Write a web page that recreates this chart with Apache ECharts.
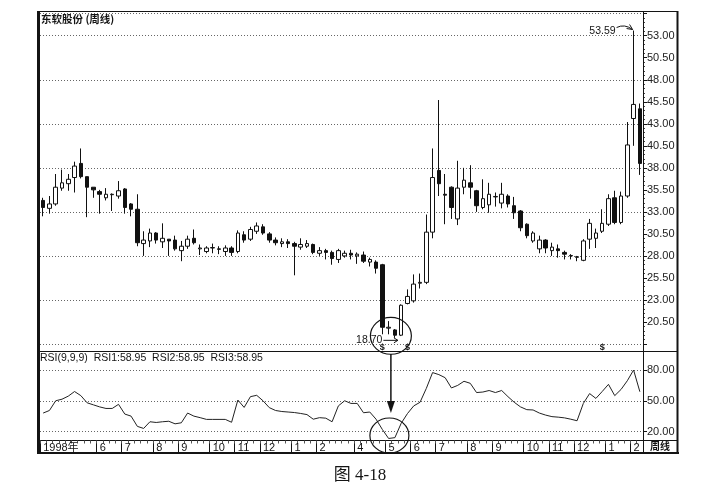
<!DOCTYPE html>
<html><head><meta charset="utf-8">
<script src="https://cdn.jsdelivr.net/npm/echarts@6/dist/echarts.min.js"></script>
<style>html,body{margin:0;padding:0;background:#fff}#c{width:704px;height:486px}</style>
</head><body><div id="c"></div>
<script>
// ---- data (weekly candles, 东软股份) ----
const opens = [34.3,33.4,33.9,35.7,36.2,36.9,38.5,37.0,35.8,35.3,
 34.6,34.95,34.8,35.6,33.9,33.3,29.4,29.7,30.6,29.6,
 29.9,29.8,28.6,29.1,30.0,28.8,28.5,28.9,28.8,28.5,
 28.9,28.5,30.4,29.9,30.8,31.3,30.5,29.8,29.4,29.6,
 29.4,29.0,29.1,29.3,28.3,28.6,28.4,27.6,28.0,28.3,
 28.0,28.1,27.3,27.3,27.0,19.8,19.6,19.0,22.6,22.9,
 24.9,25.0,30.7,37.7,35.0,35.8,32.2,35.8,36.3,35.4,
 33.5,33.8,34.7,34.0,34.8,33.7,33.1,31.6,29.7,28.8,
 29.8,28.6,28.8,28.4,28.0,27.9,27.5,29.9,30.0,30.8,
 31.6,34.6,31.8,34.8,43.6,44.7];
const closes = [33.5,33.9,35.8,36.3,36.7,38.2,37.0,35.8,35.5,35.0,
 35.0,35.0,35.4,33.5,33.3,29.5,29.8,30.6,29.8,30.0,
 29.7,28.8,29.1,29.9,29.5,28.9,28.9,28.95,28.75,28.9,
 28.4,30.6,29.8,31.0,31.4,30.6,29.8,29.5,29.6,29.4,
 29.1,29.3,29.4,28.4,28.6,28.4,27.7,28.6,28.3,28.1,
 28.2,27.4,27.6,26.6,19.9,19.9,19.0,22.4,23.4,24.8,
 25.0,30.7,36.9,36.2,34.9,33.5,35.7,36.6,35.8,33.7,
 34.5,35.0,34.75,35.0,33.9,32.9,31.2,30.3,30.6,29.8,
 28.9,29.0,28.6,28.2,28.05,27.85,29.7,31.7,30.6,31.7,
 34.5,31.8,34.8,40.6,45.2,38.5];
const lows = [32.5,32.8,33.7,35.4,35.4,35.2,36.8,32.4,34.6,32.8,
 34.3,33.1,34.5,32.8,32.5,29.1,28.0,29.0,29.4,28.9,
 28.0,28.6,27.4,28.8,29.3,28.1,28.3,28.3,28.2,28.0,
 28.0,28.3,29.5,29.7,30.5,30.4,29.5,29.2,29.0,28.9,
 25.8,28.7,28.9,28.2,28.0,27.6,27.0,27.2,27.8,27.6,
 27.1,27.2,26.8,26.0,19.1,19.1,18.7,18.9,22.5,22.7,
 24.3,24.8,30.0,34.8,31.6,32.2,31.5,35.0,34.5,33.0,
 33.3,32.9,33.6,33.4,33.5,32.2,30.8,30.0,29.5,28.3,
 28.3,28.0,27.8,27.6,27.6,27.4,27.4,28.8,28.9,30.6,
 31.4,31.6,31.6,34.6,40.5,37.2];
const highs = [34.6,34.8,37.3,37.8,37.3,38.7,40.2,37.0,35.8,35.5,
 35.7,35.1,36.5,35.7,34.0,35.0,30.8,31.1,30.7,31.7,
 29.9,30.3,29.7,30.3,31.0,29.3,29.1,29.4,29.1,29.2,
 29.1,30.9,30.8,31.3,31.8,31.6,30.7,30.1,30.0,29.9,
 29.6,30.0,29.8,29.4,29.0,28.8,28.6,28.8,28.6,28.7,
 28.4,28.5,27.8,27.5,27.1,20.6,19.7,22.5,24.2,25.9,
 26.0,32.7,40.2,45.7,37.3,35.9,38.8,38.0,38.3,35.5,
 36.7,36.3,35.2,36.3,35.0,34.7,33.2,31.7,30.8,30.3,
 29.9,29.5,29.3,28.6,28.2,28.0,29.9,32.2,31.1,33.3,
 35.0,35.4,35.3,43.2,53.59,45.3];
const rsi = [38,40.5,50,51.5,54.5,59,55,48,46,44,
 42.5,42.5,46.5,37,35,25,23,29.5,28.8,29.5,
 30,27.5,28.5,38,35,33.5,31.8,31.8,31.8,31.8,
 29,50.7,43.5,54,55.3,50,43.3,40.5,39.5,39,
 38.5,37.6,36.5,32,33.5,33,29.5,45,50,47.4,
 47.4,38.3,39,32,22,13.2,14,28,37.5,45,
 48.5,62,77.5,75.5,72.5,62.5,65,69,67,58,
 58.5,60,58,60,54,48.5,44,41.3,41,38,
 36,34.5,34,33.3,32,30.5,47.4,57,52.3,59,
 66,55,61,69.5,80,58.8];
// month tick labels: [candle index, label]
const monthTicks = [[0,'1998年'],[9,'6'],[13,'7'],[18,'8'],[22,'9'],[27,'10'],[31,'11'],[35,'12'],
 [40,'1'],[44,'2'],[50,'4'],[55,'5'],[59,'6'],[63,'7'],[68,'8'],[72,'9'],[77,'10'],[81,'11'],
 [85,'12'],[90,'1'],[94,'2']];
const eventMarks = [54, 58, 89];
const lowPoint = [56, 18.70];
const highPoint = [94, 53.59];
const rsiLegend = 'RSI(9,9,9)  RSI1:58.95  RSI2:58.95  RSI3:58.95';
const titleText = '东软股份 (周线)';

const categories = opens.map((_, i) => 'W' + (i + 1));
const candleData = opens.map((o, i) => [o, closes[i], lows[i], highs[i]]);
const monthMap = new Map(monthTicks);

const FONT = '"Liberation Sans", Arial, "Noto Sans CJK SC", sans-serif';
const INK = '#141414';
const dotted = {color: '#666', width: 1, type: [1, 2]};

const chart = echarts.init(document.getElementById('c'));
chart.setOption({
  animation: false,
  backgroundColor: '#ffffff',
  textStyle: {fontFamily: FONT},
  grid: [
    {left: 40, right: 61, top: 13.7, height: 330.3},
    {left: 40, right: 61, top: 370, height: 61.5}
  ],
  xAxis: [
    {gridIndex: 0, type: 'category', data: categories, boundaryGap: true, show: false},
    {gridIndex: 1, type: 'category', data: categories, boundaryGap: true, position: 'bottom', offset: 9,
     axisLine: {show: true, lineStyle: {color: INK, width: 1}},
     axisTick: {show: true, interval: (i) => monthMap.has(i), length: 12, lineStyle: {color: INK, width: 1}},
     axisLabel: {show: true, interval: (i) => monthMap.has(i), formatter: (v, i) => monthMap.get(i) || '',
       align: 'left', margin: 2, fontSize: 11, color: INK, fontFamily: FONT},
     splitLine: {show: false}},
    {gridIndex: 1, type: 'category', data: categories, boundaryGap: true, position: 'bottom', offset: 9,
     axisLine: {show: false}, axisTick: {show: true, interval: 0, length: 3, lineStyle: {color: '#555'}},
     axisLabel: {show: false}, splitLine: {show: false}}
  ],
  yAxis: [
    {gridIndex: 0, type: 'value', position: 'right', min: 18, max: 55.5, interval: 2.5,
     axisLine: {show: true, lineStyle: {color: INK}},
     axisTick: {show: true, length: 4, lineStyle: {color: INK}},
     minorTick: {show: true, splitNumber: 5, length: 2, lineStyle: {color: '#444'}},
     axisLabel: {formatter: (v) => (v < 20 || v > 54) ? '' : v.toFixed(2), fontSize: 11, color: '#222', margin: 4, fontFamily: FONT},
     splitLine: {show: false}},
    {gridIndex: 0, type: 'value', position: 'left', min: 18, max: 55.5, interval: 5,
     axisLine: {show: false}, axisTick: {show: false}, axisLabel: {show: false},
     splitLine: {show: true, lineStyle: dotted}},
    {gridIndex: 1, type: 'value', position: 'right', min: 20, max: 80, interval: 30,
     axisLine: {show: true, lineStyle: {color: INK}},
     axisTick: {show: true, length: 4, lineStyle: {color: INK}},
     axisLabel: {formatter: (v) => v.toFixed(2), fontSize: 11, color: '#222', margin: 4, fontFamily: FONT},
     splitLine: {show: true, lineStyle: dotted}}
  ],
  series: [
    {type: 'candlestick', xAxisIndex: 0, yAxisIndex: 0, data: candleData, barWidth: 4,
     itemStyle: {color: '#ffffff', color0: '#111111', borderColor: '#111111', borderColor0: '#111111', borderWidth: 1}},
    {type: 'line', xAxisIndex: 1, yAxisIndex: 2, data: rsi, symbol: 'none', clip: false,
     lineStyle: {color: '#222', width: 1}}
  ]
});

// ---- frame, texts and annotations placed from data positions ----
const g = [];
const ln = (x1, y1, x2, y2, w = 1, c = INK) => g.push({type: 'line', silent: true, z: 50,
  shape: {x1, y1, x2, y2}, style: {stroke: c, lineWidth: w}});
const tx = (x, y, text, o = {}) => g.push({type: 'text', silent: true, z: 60, x, y,
  style: Object.assign({text, fill: INK, fontSize: 11, fontFamily: FONT, align: 'left', verticalAlign: 'middle'}, o)});

ln(37, 11.5, 678, 11.5);
g.push({type: 'rect', silent: true, z: 50, shape: {x: 37, y: 11, width: 3, height: 443}, style: {fill: INK}});
ln(677.5, 11, 677.5, 454, 2);
ln(643.5, 11, 643.5, 453);
ln(38, 351.5, 678, 351.5);
ln(643, 440.5, 678, 440.5);
ln(37, 453, 679, 453, 2);

tx(41, 19, titleText, {fontSize: 10.5, fontWeight: 'bold', fontFamily: '"Noto Sans CJK SC", sans-serif'});
tx(40, 358, rsiLegend, {fontSize: 10.5});
tx(650, 446, '周线', {fontSize: 10, fontWeight: 'bold', fontFamily: '"Noto Sans CJK SC", sans-serif'});
tx(360, 476, '图 4-18', {fontSize: 17, align: 'center', fontFamily: '"Liberation Serif", "Noto Sans CJK SC", serif'});

const P = (v) => chart.convertToPixel({xAxisIndex: 0, yAxisIndex: 0}, v);
const R = (v) => chart.convertToPixel({xAxisIndex: 1, yAxisIndex: 2}, v);

// high annotation
const [hx, hy] = P(highPoint);
tx(hx - 18, hy + 1, highPoint[1].toFixed(2), {fontSize: 10.5, align: 'right'});
g.push({type: 'bezierCurve', silent: true, z: 60, shape: {x1: hx - 17, y1: hy - 3, cpx1: hx - 9, cpy1: hy - 7, x2: hx - 1, y2: hy - 1},
  style: {stroke: INK, lineWidth: 1, fill: 'none'}});
g.push({type: 'polyline', silent: true, z: 60, shape: {points: [[hx - 7, hy - 2], [hx - 1, hy - 1], [hx - 4, hy - 6]]},
  style: {stroke: INK, lineWidth: 1, fill: 'none'}});

// low annotation
const [lx, ly] = P(lowPoint);
tx(lx - 12.5, ly + 2.5, lowPoint[1].toFixed(2), {fontSize: 10.5, align: 'right'});
ln(lx - 11.5, ly + 2.5, lx + 3, ly + 2.5);
g.push({type: 'polyline', silent: true, z: 60, shape: {points: [[lx - 1, ly], [lx + 3, ly + 2.5], [lx - 1, ly + 5]]},
  style: {stroke: INK, lineWidth: 1, fill: 'none'}});
const cx = lx - 4;
g.push({type: 'circle', silent: true, z: 60, x: cx, y: ly - 2, scaleY: 0.9, shape: {cx: 0, cy: 0, r: 20.5},
  style: {stroke: INK, lineWidth: 1.2, fill: 'none'}});
ln(cx, 354, cx, 404, 1.5);
g.push({type: 'polygon', silent: true, z: 60, shape: {points: [[cx - 4, 401], [cx + 4, 401], [cx, 413]]}, style: {fill: INK}});
const [, ry] = R([55, 20]);
g.push({type: 'circle', silent: true, z: 60, x: cx - 1.5, y: ry + 4, scaleY: 0.9, shape: {cx: 0, cy: 0, r: 19.5},
  style: {stroke: INK, lineWidth: 1.2, fill: 'none'}});

// event marks
eventMarks.forEach((i) => {
  const [ex, ey] = P([i, 18]);
  tx(ex, ey + 3.5, '$', {fontSize: 9, fontWeight: 'bold', align: 'center'});
});

chart.setOption({graphic: {elements: g}});
</script>
</body></html>
